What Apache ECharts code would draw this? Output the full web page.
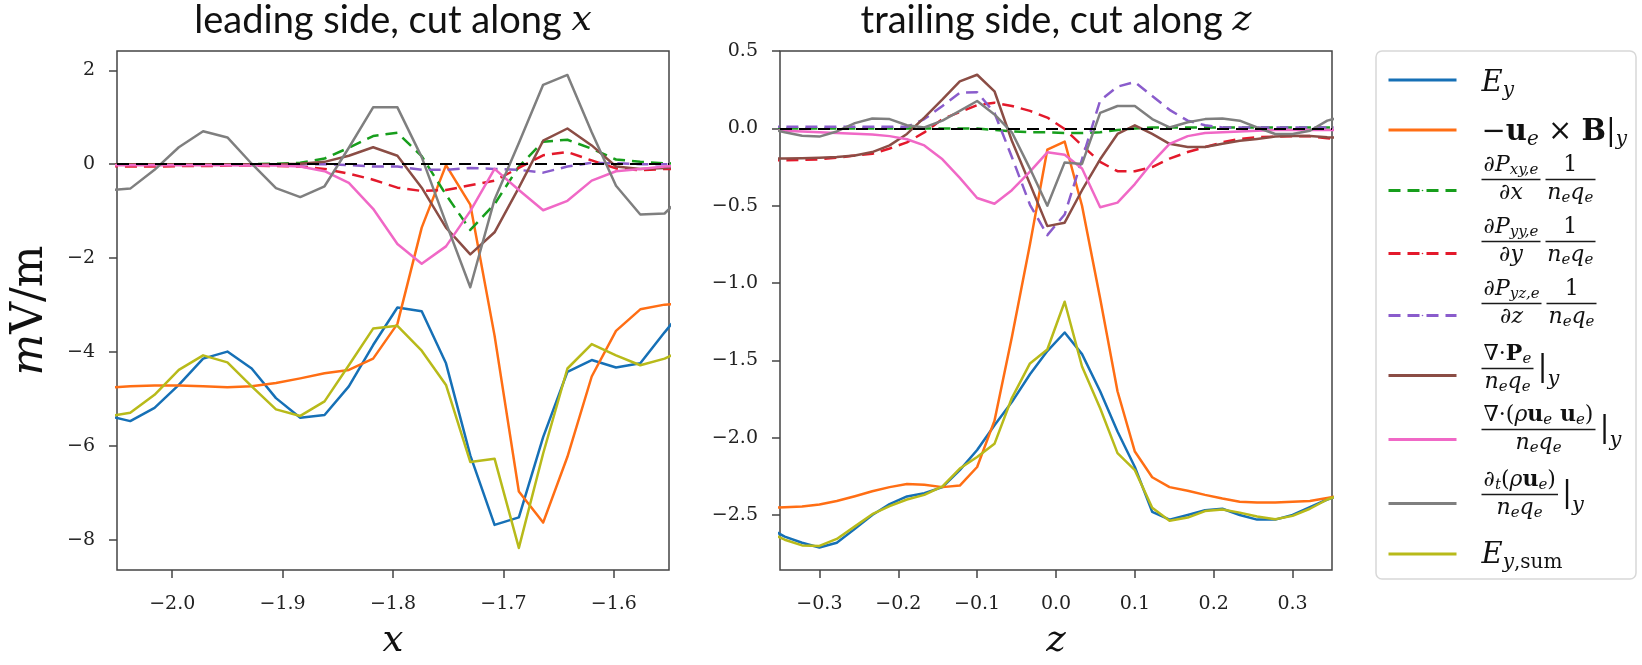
<!DOCTYPE html>
<html><head><meta charset="utf-8">
<script src="https://cdn.jsdelivr.net/npm/echarts@6.0.0/dist/echarts.min.js"></script>
<style>html,body{margin:0;padding:0;background:#fff}#c{width:1642px;height:665px}</style>
</head><body><div id="c"></div>
<script>
// ---------------- data ----------------
const xLead = [-2.060,-2.038,-2.016,-1.994,-1.972,-1.950,-1.928,-1.906,-1.884,-1.862,-1.840,-1.818,-1.796,-1.774,-1.752,-1.730,-1.708,-1.686,-1.664,-1.642,-1.620,-1.598,-1.576,-1.554,-1.532];
const leadEy   = [-5.35,-5.47,-5.19,-4.70,-4.14,-3.99,-4.35,-4.98,-5.40,-5.34,-4.73,-3.85,-3.05,-3.13,-4.24,-6.20,-7.68,-7.52,-5.81,-4.42,-4.17,-4.33,-4.24,-3.58,-2.95];
const leadUxB  = [-4.76,-4.73,-4.71,-4.71,-4.73,-4.75,-4.73,-4.66,-4.56,-4.45,-4.38,-4.14,-3.40,-1.35,-0.02,-0.86,-3.65,-6.97,-7.63,-6.23,-4.52,-3.55,-3.09,-2.99,-2.95];
const leadPxy  = [0,0,0,0,0,0,0,0.01,0.03,0.12,0.35,0.60,0.67,0.17,-0.65,-1.40,-0.85,-0.05,0.48,0.52,0.33,0.10,0.05,0.02,0.01];
const leadPyy  = [-0.04,-0.05,-0.05,-0.04,-0.04,-0.03,-0.03,-0.04,-0.05,-0.10,-0.20,-0.33,-0.50,-0.57,-0.55,-0.45,-0.35,-0.08,0.19,0.26,0.08,-0.09,-0.13,-0.10,-0.10];
const leadPyz  = [0,0,0,0,0,0,0,0,0,0,-0.02,-0.05,-0.05,-0.12,-0.12,-0.08,-0.10,-0.12,-0.18,-0.05,0.03,0.02,0,0,0];
const leadDivP = [0,0,0,0,0,0,0,0,0.01,0.05,0.18,0.36,0.18,-0.50,-1.35,-1.92,-1.45,-0.50,0.50,0.76,0.40,-0.05,-0.10,-0.08,-0.05];
const leadDivUU= [-0.02,-0.02,-0.02,-0.02,-0.02,-0.02,-0.03,-0.03,-0.05,-0.15,-0.40,-0.95,-1.70,-2.12,-1.75,-1.00,-0.10,-0.55,-0.98,-0.78,-0.35,-0.15,-0.10,-0.05,-0.03];
const leadDtU  = [-0.56,-0.52,-0.12,0.36,0.70,0.57,0.01,-0.51,-0.70,-0.47,0.35,1.21,1.21,0.15,-1.25,-2.62,-0.75,0.45,1.69,1.90,0.68,-0.46,-1.07,-1.05,-0.55];
const leadEsum = [-5.38,-5.29,-4.91,-4.38,-4.07,-4.22,-4.73,-5.22,-5.36,-5.05,-4.28,-3.50,-3.44,-3.97,-4.70,-6.34,-6.27,-8.17,-6.16,-4.35,-3.83,-4.07,-4.28,-4.14,-3.90];

const zTrail = [-0.366,-0.344,-0.322,-0.300,-0.278,-0.255,-0.233,-0.211,-0.189,-0.167,-0.144,-0.122,-0.100,-0.078,-0.056,-0.033,-0.011,0.011,0.033,0.056,0.078,0.100,0.122,0.144,0.167,0.189,0.211,0.233,0.255,0.278,0.300,0.322,0.344,0.366];
const trailEy   = [-2.58,-2.64,-2.68,-2.71,-2.68,-2.59,-2.50,-2.43,-2.38,-2.36,-2.32,-2.21,-2.08,-1.92,-1.77,-1.59,-1.44,-1.32,-1.46,-1.70,-1.96,-2.19,-2.48,-2.53,-2.50,-2.47,-2.46,-2.50,-2.53,-2.53,-2.50,-2.45,-2.40,-2.36];
const trailUxB  = [-2.455,-2.45,-2.445,-2.432,-2.41,-2.379,-2.347,-2.32,-2.30,-2.305,-2.32,-2.31,-2.19,-1.89,-1.35,-0.75,-0.138,-0.085,-0.50,-1.10,-1.70,-2.09,-2.256,-2.32,-2.343,-2.37,-2.394,-2.415,-2.42,-2.42,-2.415,-2.41,-2.39,-2.37];
const trailPxy  = [0,0,0,0,0,0,0,0,0,0,0,0,0,-0.01,-0.02,-0.025,-0.025,-0.03,-0.03,-0.025,-0.01,0,0.005,0.005,0.005,0.005,0.005,0.005,0.005,0.005,0.005,0.005,0.005,0.005];
const trailPyy  = [-0.207,-0.206,-0.204,-0.20,-0.19,-0.175,-0.164,-0.13,-0.09,-0.026,0.06,0.106,0.15,0.166,0.145,0.113,0.07,-0.004,-0.11,-0.217,-0.277,-0.277,-0.25,-0.196,-0.153,-0.121,-0.09,-0.068,-0.057,-0.053,-0.051,-0.05,-0.064,-0.07];
const trailPyz  = [0.01,0.01,0.01,0.01,0.01,0.01,0.01,0.01,0.01,0.06,0.145,0.23,0.234,0.10,-0.185,-0.494,-0.69,-0.557,-0.20,0.18,0.27,0.30,0.21,0.12,0.05,0.02,0.006,0.005,0.005,0.005,0.005,0.005,0.005,0.005];
const trailDivP = [-0.196,-0.195,-0.193,-0.19,-0.185,-0.175,-0.153,-0.11,-0.036,0.07,0.187,0.304,0.347,0.24,-0.08,-0.36,-0.632,-0.61,-0.40,-0.20,-0.036,0.02,-0.036,-0.10,-0.12,-0.12,-0.10,-0.08,-0.068,-0.053,-0.047,-0.05,-0.057,-0.06];
const trailDivUU= [-0.01,-0.015,-0.02,-0.025,-0.03,-0.035,-0.04,-0.05,-0.07,-0.11,-0.20,-0.32,-0.45,-0.487,-0.40,-0.28,-0.155,-0.17,-0.26,-0.51,-0.48,-0.36,-0.22,-0.10,-0.05,-0.03,-0.025,-0.02,-0.015,-0.01,-0.01,-0.01,-0.01,-0.01];
const trailDtU  = [0.0,-0.025,-0.047,-0.053,-0.02,0.034,0.064,0.06,0.02,0.006,0.05,0.113,0.177,0.09,-0.025,-0.26,-0.50,-0.22,-0.23,0.10,0.145,0.145,0.06,0.006,0.04,0.06,0.064,0.05,0.006,-0.036,-0.036,-0.015,0.05,0.08];
const trailEsum = [-2.61,-2.66,-2.697,-2.70,-2.655,-2.574,-2.495,-2.443,-2.40,-2.37,-2.315,-2.20,-2.125,-2.04,-1.744,-1.52,-1.43,-1.121,-1.54,-1.81,-2.10,-2.21,-2.453,-2.538,-2.517,-2.475,-2.465,-2.485,-2.51,-2.528,-2.506,-2.46,-2.40,-2.36];

const leadXTicks  = [-2.0,-1.9,-1.8,-1.7,-1.6];
const leadYTicks  = [-8,-6,-4,-2,0,2];
const trailXTicks = [-0.3,-0.2,-0.1,0.0,0.1,0.2,0.3];
const trailYTicks = [-2.5,-2.0,-1.5,-1.0,-0.5,0.0,0.5];

const seriesKeys = ['Ey','uxB','Pxy','Pyy','Pyz','DivP','DivUU','DtU','Esum'];
const seriesColors = ['#1670b6','#ff6e14','#179e1c','#e3192b','#8a5ccc','#8b4d45','#f068c6','#7f7f7f','#b8ba1a'];
const seriesDashed = [false,false,true,true,true,false,false,false,false];
const leadData  = [leadEy,leadUxB,leadPxy,leadPyy,leadPyz,leadDivP,leadDivUU,leadDtU,leadEsum];
const trailData = [trailEy,trailUxB,trailPxy,trailPyy,trailPyz,trailDivP,trailDivUU,trailDtU,trailEsum];

// ---------------- legend rich text ----------------
const FT = 'DejaVu Serif';
const rich = {};
function S(name, o){ rich[name] = Object.assign({fontFamily:FT, color:'#111', fontWeight:'normal', fontStyle:'normal'}, o); }
S('L',  {fontStyle:'italic', fontSize:29, lineHeight:32});
S('Lr', {fontSize:29, lineHeight:32});
S('Lb', {fontWeight:'bold', fontSize:29, lineHeight:32});
S('Ls', {fontStyle:'italic', fontSize:20, lineHeight:32, padding:[15,0,0,0]});
S('Lsr',{fontSize:20, lineHeight:32, padding:[15,0,0,0]});
S('Fi', {fontStyle:'italic', fontSize:22, lineHeight:22});
S('Fr', {fontSize:22, lineHeight:22});
S('Fb', {fontWeight:'bold', fontSize:22, lineHeight:22});
S('Fs', {fontStyle:'italic', fontSize:15, lineHeight:22, padding:[10,0,0,0]});
S('Fv', {fontSize:30, lineHeight:6});
S('Fvs',{fontStyle:'italic', fontSize:21, lineHeight:6, padding:[22,0,0,0]});
const SIMPLE_H = 32, FRAC_H = 50;

const mctx = document.createElement('canvas').getContext('2d');
function tw(st, text){ const s = rich[st]; mctx.font = [s.fontStyle, s.fontWeight, s.fontSize+'px', FT].join(' '); return mctx.measureText(text).width; }
function gw(segs){ return segs.reduce((a,s)=>a+tw(s[0],s[1]),0); }
function gs(segs){ return segs.map(s=>'{'+s[0]+'|'+s[1]+'}').join(''); }
function key(p, w){ return p+String(w).replace('.','_'); }
function sp(w){ w = Math.round(w*2)/2; if (w <= 0) return ''; const n = key('s',w); if(!rich[n]) rich[n] = {width:w, height:1, lineHeight:1}; return '{'+n+'|}'; }
function bar(w){ w = Math.round(w*2)/2; const n = key('b',w); if(!rich[n]) rich[n] = {width:w, height:1.5, lineHeight:6, backgroundColor:'#1a1a1a'}; return '{'+n+'|}'; }
function vs(h){ const n = 'v'+h; if(!rich[n]) rich[n] = {width:1, height:h, lineHeight:h}; return '{'+n+'|}'; }
const LEFT = 20;
function simple(segs, top, bot){ const L=[]; if(top) L.push(vs(top)); L.push(sp(LEFT)+gs(segs)); if(bot) L.push(vs(bot)); return {text:L.join('\n'), h:top+SIMPLE_H+bot}; }
function frac(items, top, bot){
  let n = sp(LEFT), b = sp(LEFT), d = sp(LEFT);
  items.forEach(it=>{
    if (it.f){ const nw=gw(it.f[0]), dw=gw(it.f[1]); const fw=Math.max(nw,dw)+4;
      n += sp((fw-nw)/2)+gs(it.f[0])+sp((fw-nw)/2);
      d += sp((fw-dw)/2)+gs(it.f[1])+sp((fw-dw)/2);
      b += bar(fw);
    } else if (it.g){ n+=sp(it.g); d+=sp(it.g); b+=sp(it.g); }
    else if (it.i){ b += gs(it.i); }
  });
  const L=[]; if(top) L.push(vs(top)); L.push(n,b,d); if(bot) L.push(vs(bot)); return {text:L.join('\n'), h:top+FRAC_H+bot};
}
const nq = [['Fi','n'],['Fs','e'],['Fi','q'],['Fs','e']];
const vy = [['Fv','|'],['Fvs','y']];
const legendText = {
  Ey:   simple([['L','E'],['Ls','y']], 6, 0),
  uxB:  simple([['Lr','−'],['Lb','u'],['Ls','e'],['Lr',' × '],['Lb','B'],['Lr','|'],['Ls','y']], 4, 0),
  Pxy:  frac([{f:[[['Fi','∂'],['Fi','P'],['Fs','xy,e']],[['Fi','∂'],['Fi','x']]]},{g:5},{f:[[['Fr','1']],nq]}], 0, 22),
  Pyy:  frac([{f:[[['Fi','∂'],['Fi','P'],['Fs','yy,e']],[['Fi','∂'],['Fi','y']]]},{g:5},{f:[[['Fr','1']],nq]}], 0, 24),
  Pyz:  frac([{f:[[['Fi','∂'],['Fi','P'],['Fs','yz,e']],[['Fi','∂'],['Fi','z']]]},{g:5},{f:[[['Fr','1']],nq]}], 0, 24),
  DivP: frac([{f:[[['Fr','∇·'],['Fb','P'],['Fs','e']],nq]},{g:4},{i:vy}], 0, 14),
  DivUU:frac([{f:[[['Fr','∇·('],['Fi','ρ'],['Fb','u'],['Fs','e'],['Fb',' u'],['Fs','e'],['Fr',')']],nq]},{g:4},{i:vy}], 0, 20),
  DtU:  frac([{f:[[['Fi','∂'],['Fs','t'],['Fr','('],['Fi','ρ'],['Fb','u'],['Fs','e'],['Fr',')']],nq]},{g:4},{i:vy}], 0, 18),
  Esum: simple([['L','E'],['Ls','y'],['Lsr',',sum']], 2, 0)
};
const legendHandleY = [77,126,189,252,314,374,438,502,549];

// ---------------- chart ----------------
const fmt1 = v => (v < -1e-9 ? '−' : '') + Math.abs(v).toFixed(1);
const fmt0 = v => (v < -1e-9 ? '−' : '') + Math.abs(v).toFixed(0);
const AX = '#444';
function xAx(gi, min, max, ticks, nm){
  return {type:'value', gridIndex:gi, min, max,
    axisLine:{show:false, onZero:false}, splitLine:{show:false},
    axisTick:{show:true, length:8, customValues:ticks, lineStyle:{color:AX, width:1.5}},
    axisLabel:{customValues:ticks, margin:25, formatter:fmt1, fontFamily:FT, fontSize:19, color:'#222'},
    name:'{i|'+nm+'}', nameLocation:'middle', nameGap:53,
    nameTextStyle:{rich:{i:{fontFamily:FT, fontStyle:'italic', fontWeight:'normal', fontSize:37, color:'#111'}}}};
}
function yAx(gi, min, max, ticks, fmt, withName){
  const o = {type:'value', gridIndex:gi, min, max,
    axisLine:{show:false, onZero:false}, splitLine:{show:false},
    axisTick:{show:true, length:8, customValues:ticks, lineStyle:{color:AX, width:1.5}},
    axisLabel:{customValues:ticks, margin:22, formatter:fmt, fontFamily:FT, fontSize:19, color:'#222'}};
  if (withName){ Object.assign(o, {name:'{i|m}{r|V/m}', nameLocation:'middle', nameGap:64, nameRotate:90,
    nameTextStyle:{rich:{i:{fontFamily:FT, fontStyle:'italic', fontWeight:'normal', fontSize:44, color:'#111'}, r:{fontFamily:FT, fontWeight:'normal', fontSize:44, color:'#111'}}}}); }
  return o;
}
const series = [];
seriesKeys.forEach((k,i)=>{
  const ls = {color:seriesColors[i], width:2.5, type: seriesDashed[i] ? [12,7] : 'solid', join:'round'};
  [[0,xLead,leadData[i]],[1,zTrail,trailData[i]]].forEach(([gi,xs,ys])=>{
    const s = {name:k, type:'line', xAxisIndex:gi, yAxisIndex:gi, data: xs.map((x,j)=>[x, ys[j]]),
      showSymbol:false, symbol:'none', lineStyle:ls, itemStyle:{color:seriesColors[i]}, silent:true, animation:false, clip:true};
    if (k === 'Esum') s.markLine = {silent:true, symbol:['none','none'], label:{show:false}, animation:false,
      lineStyle:{color:'#000', type:[12,7], width:2}, emphasis:{disabled:true}, data:[{yAxis:0}]};
    series.push(s);
  });
});
const legends = seriesKeys.map((k,i)=>({
  orient:'vertical', left:1387, top: legendHandleY[i] - legendText[k].h/2, padding:0, itemGap:0,
  itemWidth:68, itemHeight:2, selectedMode:false, data:[k], formatter:()=>legendText[k].text,
  textStyle:{rich:rich, fontFamily:FT, fontSize:12, color:'#111', backgroundColor:'rgba(255,255,255,0)'},
  lineStyle:{width:3}
}));
const titleRich = {a:{fontFamily:'Lato', fontWeight:'normal', fontSize:38, color:'#111'}, b:{fontFamily:FT, fontStyle:'italic', fontWeight:'normal', fontSize:36, color:'#111'}};
const option = {
  animation:false, backgroundColor:'#fff',
  title:[
    {text:'{a|leading side, cut along }{b|x}', left:393, top:2, padding:0, textAlign:'center', textStyle:{fontWeight:'normal', rich:titleRich}},
    {text:'{a|trailing side, cut along }{b|z}', left:1056, top:2, padding:0, textAlign:'center', textStyle:{fontWeight:'normal', rich:titleRich}}
  ],
  grid:[
    {left:117, top:51, width:552, height:528, show:true, borderColor:AX, borderWidth:1.5},
    {left:780, top:51, width:552, height:528, show:true, borderColor:AX, borderWidth:1.5}
  ],
  xAxis:[xAx(0,-2.05,-1.55,leadXTicks,'x'), xAx(1,-0.35,0.35,trailXTicks,'z')],
  yAxis:[yAx(0,-8.64,2.41,leadYTicks,fmt0,true), yAx(1,-2.856,0.5005,trailYTicks,fmt1,false)],
  legend:legends,
  graphic:[{type:'rect', silent:true, z:-10, shape:{x:1376, y:51, width:260, height:528, r:6},
    style:{fill:'#fff', stroke:'#d8d8d8', lineWidth:1.5}}],
  series:series
};
const chart = echarts.init(document.getElementById('c'), null, {renderer:'canvas', width:1642, height:665});
chart.setOption(option);
</script></body></html>
